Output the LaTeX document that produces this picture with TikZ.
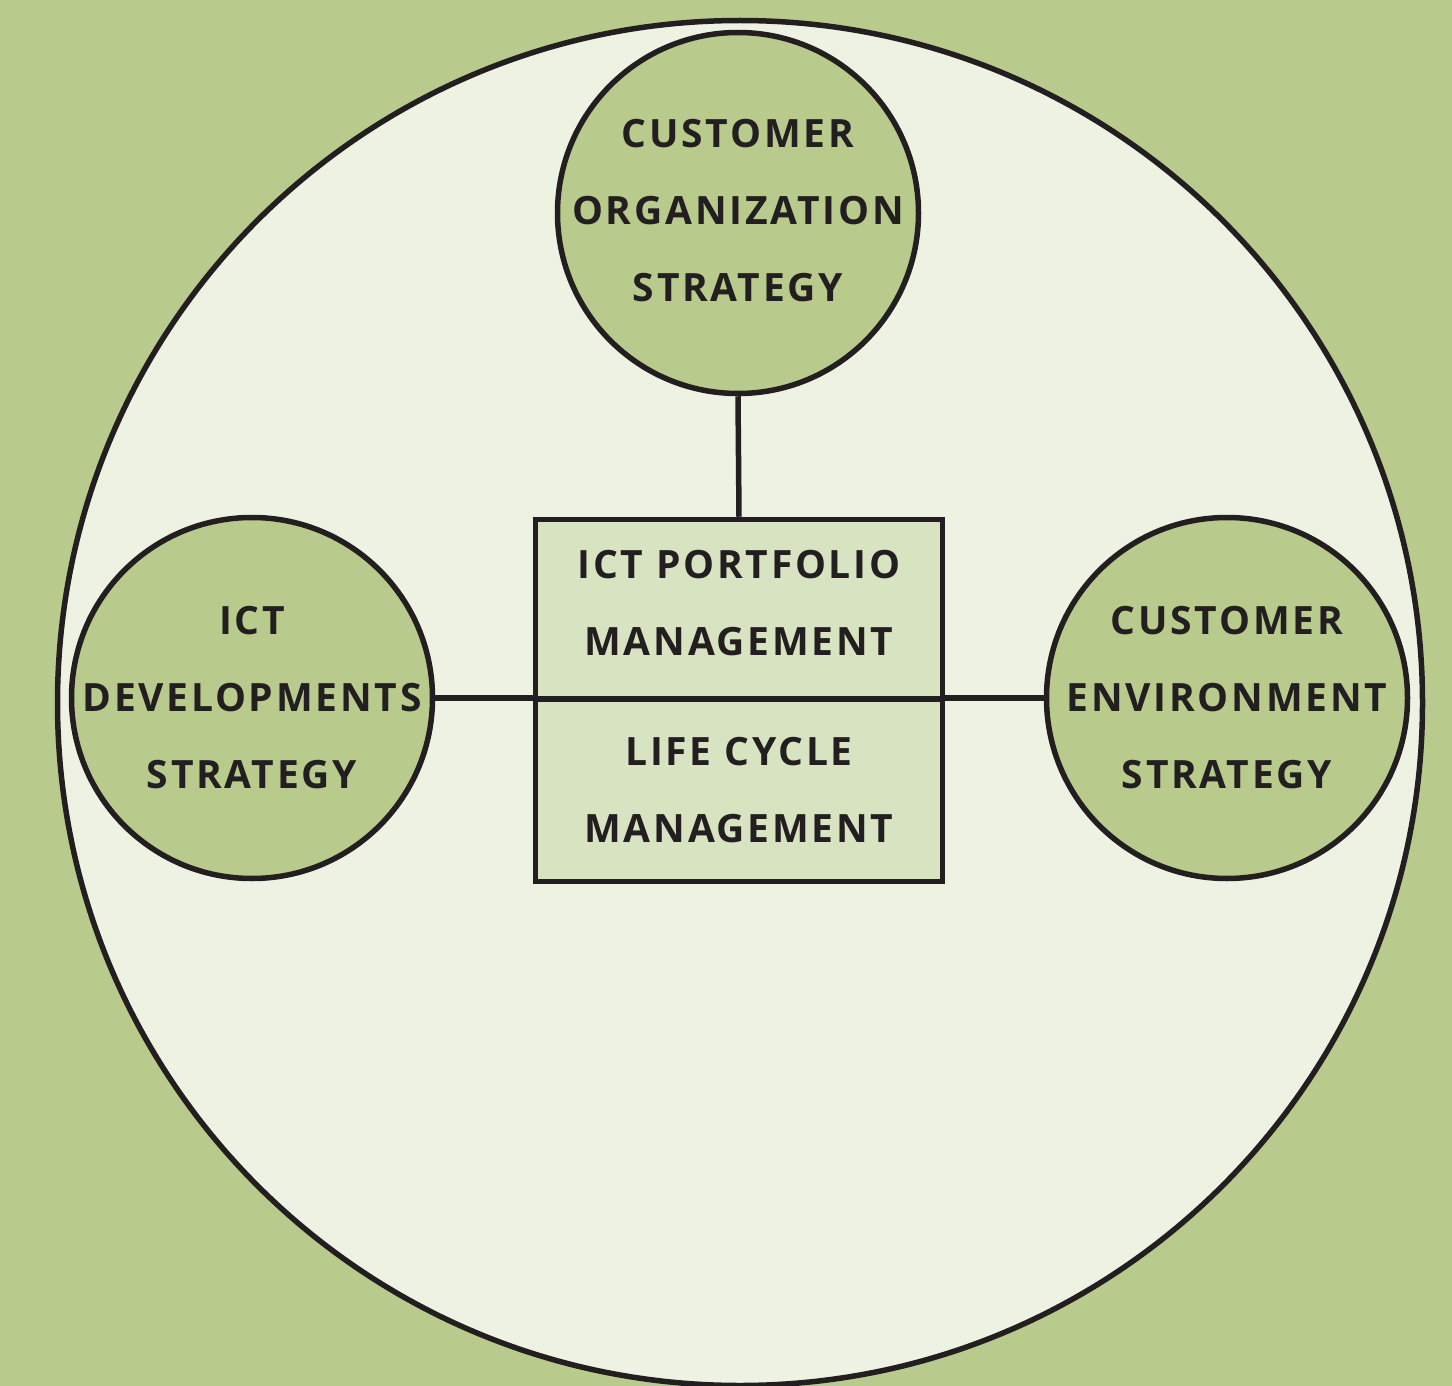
\documentclass[tikz,border=0pt]{standalone}
\usepackage{fontspec}
\newfontfamily\diagfont{Open Sans}[LetterSpace=7]
\definecolor{bggreen}{HTML}{B8CB8C}
\definecolor{paper}{HTML}{EEF2E3}
\definecolor{boxgreen}{HTML}{D8E3C2}
\definecolor{ink}{HTML}{231F20}
\tikzset{
  strat/.style={circle, draw=ink, fill=bggreen, minimum size=361pt, inner sep=0pt},
  mgmt/.style={rectangle, draw=ink, fill=boxgreen, minimum width=407pt, inner sep=0pt},
  lbl/.style={align=center, inner sep=0pt, text=ink,
    font=\diagfont\bfseries\fontsize{39}{77}\selectfont}
}
\begin{document}
\begin{tikzpicture}[x=1pt, y=-1pt, line width=5.5pt]
  % background and outer circle
  \fill[bggreen] (0,0) rectangle (1452,1386);
  \useasboundingbox (0,0) rectangle (1452,1386);
  \clip (0,0) rectangle (1452,1386);
  \draw[ink, fill=paper] (740,703) circle[radius=682.5];
  % strategies
  \node[strat] (org) at (738,213) {};
  \node[strat] (dev) at (252,698) {};
  \node[strat] (env) at (1227,698) {};
  \node[lbl] at ([yshift=2pt]org) {CUSTOMER\\ORGANIZATION\\STRATEGY};
  \node[lbl] at (dev) {ICT\\DEVELOPMENTS\\STRATEGY};
  \node[lbl] at (env) {CUSTOMER\\ENVIRONMENT\\STRATEGY};
  % management box
  \node[mgmt, minimum height=179.5pt] (port) at (739,609.25) {};
  \node[mgmt, minimum height=182.5pt] (life) at (739,790.25) {};
  \node[lbl] at ([yshift=6pt]port) {ICT PORTFOLIO\\MANAGEMENT};
  \node[lbl] at (life) {LIFE CYCLE\\MANAGEMENT};
  \draw[ink] (org.south) -- (port.north);
  \draw[ink] (dev.east) -- (dev.east -| port.west);
  \draw[ink] (env.west) -- (env.west -| port.east);
\end{tikzpicture}
\end{document}
